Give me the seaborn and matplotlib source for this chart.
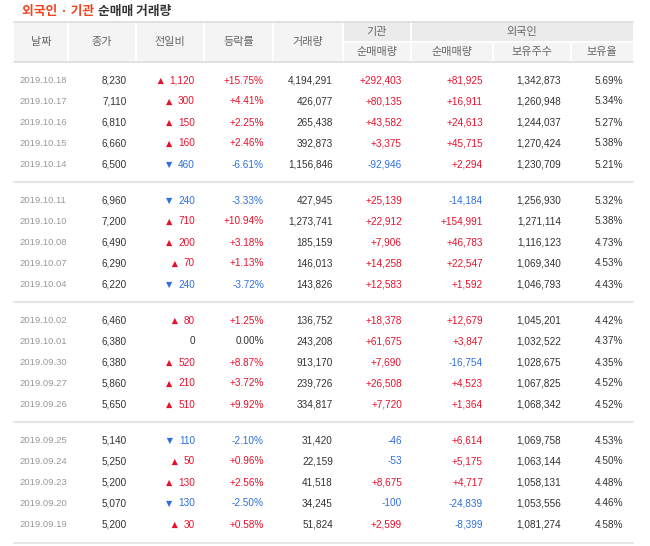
import pandas as pd
import matplotlib.pyplot as plt
import seaborn as sns

sns.set_theme(style="white")

dates = ["2019.10.18", "2019.10.17", "2019.10.16", "2019.10.15", "2019.10.14",
         "2019.10.11", "2019.10.10", "2019.10.08", "2019.10.07", "2019.10.04",
         "2019.10.02", "2019.10.01", "2019.09.30", "2019.09.27", "2019.09.26",
         "2019.09.25", "2019.09.24", "2019.09.23", "2019.09.20", "2019.09.19"]
close = [8230, 7110, 6810, 6660, 6500, 6960, 7200, 6490, 6290, 6220,
         6460, 6380, 6380, 5860, 5650, 5140, 5250, 5200, 5070, 5200]
change = [1120, 300, 150, 160, -460, -240, 710, 200, 70, -240,
          80, 0, 520, 210, 510, -110, 50, 130, -130, 30]
rate = [15.75, 4.41, 2.25, 2.46, -6.61, -3.33, 10.94, 3.18, 1.13, -3.72,
        1.25, 0.00, 8.87, 3.72, 9.92, -2.10, 0.96, 2.56, -2.50, 0.58]
volume = [4194291, 426077, 265438, 392873, 1156846, 427945, 1273741, 185159, 146013, 143826,
          136752, 243208, 913170, 239726, 334817, 31420, 22159, 41518, 34245, 51824]
inst_net = [292403, 80135, 43582, 3375, -92946, 25139, 22912, 7906, 14258, 12583,
            18378, 61675, 7690, 26508, 7720, -46, -53, 8675, -100, 2599]
frgn_net = [81925, 16911, 24613, 45715, 2294, -14184, 154991, 46783, 22547, 1592,
            12679, 3847, -16754, 4523, 1364, 6614, 5175, 4717, -24839, -8399]
frgn_hold = [1342873, 1260948, 1244037, 1270424, 1230709, 1256930, 1271114, 1116123, 1069340, 1046793,
             1045201, 1032522, 1028675, 1067825, 1068342, 1069758, 1063144, 1058131, 1053556, 1081274]
frgn_ratio = [5.69, 5.34, 5.27, 5.38, 5.21, 5.32, 5.38, 4.73, 4.53, 4.43,
              4.42, 4.37, 4.35, 4.52, 4.52, 4.53, 4.50, 4.48, 4.46, 4.58]

header_main = ["날짜", "종가", "전일비", "등락률", "거래량"]
header_groups = ["기관", "외국인"]
header_sub = ["순매매량", "순매매량", "보유주수", "보유율"]

RED = "#e8112d"
BLUE = "#2f6fdf"
DARK = "#333333"
GRAY = "#999999"
HGRAY = "#666666"
KR = ["Noto Sans CJK KR", "DejaVu Sans"]
NUM = ["Liberation Sans", "DejaVu Sans"]

col_edges = [14, 68, 136, 204, 273, 343, 411, 493, 571, 633]
right_x = [127, 195, 264, 333, 402, 483, 561, 623]

fig = plt.figure(figsize=(6.5, 5.46), dpi=100)
ax = fig.add_axes([0, 0, 1, 1])
ax.set_xlim(0, 650)
ax.set_ylim(546, 0)
ax.axis("off")
renderer = fig.canvas.get_renderer()

# title
t1 = ax.text(22, 11, "외국인 · 기관", family=KR, fontsize=9.2, fontweight="bold",
             color="#f0441f", va="center", ha="left")
bb = t1.get_window_extent(renderer)
ax.text(bb.x1 + 4, 11, "순매매 거래량", family=KR, fontsize=9.2, fontweight="bold",
        color=DARK, va="center", ha="left")

# header backgrounds
ax.fill_between([14, 633], 21.5, 61.5, color="#f4f4f4", lw=0)
ax.fill_between([343, 633], 21.5, 41, color="#ebebeb", lw=0)
ax.plot([343, 633], [41.5, 41.5], color="white", lw=1.2)
for x in col_edges[1:-1]:
    y0 = 41.5 if x in (493, 571) else 21.5
    ax.plot([x, x], [y0, 61.5], color="white", lw=1.4)
ax.plot([14, 633], [21.5, 21.5], color="#dcdcdc", lw=1.2)
ax.plot([14, 633], [61.8, 61.8], color="#e2e2e2", lw=1.4)

for i, h in enumerate(header_main):
    cx = (col_edges[i] + col_edges[i + 1]) / 2
    ax.text(cx, 42, h, family=KR, fontsize=8, color=HGRAY, ha="center", va="center")
ax.text(377, 31.5, header_groups[0], family=KR, fontsize=8, color=HGRAY, ha="center", va="center")
ax.text(522, 31.5, header_groups[1], family=KR, fontsize=8, color=HGRAY, ha="center", va="center")
for i, h in enumerate(header_sub):
    cx = (col_edges[5 + i] + col_edges[6 + i]) / 2
    ax.text(cx, 51.5, h, family=KR, fontsize=8, color=HGRAY, ha="center", va="center")


def sign_color(v):
    return RED if v > 0 else (BLUE if v < 0 else DARK)


tri = []
for k in range(len(dates)):
    g, r = divmod(k, 5)
    y = 80.5 + g * 120 + r * 21
    kw = dict(family=NUM, fontsize=7.2, va="center", ha="right")
    ax.text(19, y, dates[k], family=NUM, fontsize=6.8, color=GRAY, va="center", ha="left")
    ax.text(right_x[0], y, f"{close[k]:,}", color=DARK, **kw)
    c = change[k]
    tc = ax.text(right_x[1], y, f"{abs(c):,}", color=sign_color(c), **kw)
    if c != 0:
        left = tc.get_window_extent(renderer).x0
        tri.append({"x": left - 9, "y": y + 0.5, "dir": "up" if c > 0 else "down"})
    rs = f"{rate[k]:+.2f}%" if rate[k] != 0 else "0.00%"
    ax.text(right_x[2], y, rs, color=sign_color(rate[k]), **kw)
    ax.text(right_x[3], y, f"{volume[k]:,}", color=DARK, **kw)
    ax.text(right_x[4], y, f"{inst_net[k]:+,}", color=sign_color(inst_net[k]), **kw)
    ax.text(right_x[5], y, f"{frgn_net[k]:+,}", color=sign_color(frgn_net[k]), **kw)
    ax.text(right_x[6], y, f"{frgn_hold[k]:,}", color=DARK, **kw)
    ax.text(right_x[7], y, f"{frgn_ratio[k]:.2f}%", color=DARK, **kw)

tri_df = pd.DataFrame(tri)
sns.scatterplot(data=tri_df, x="x", y="y", hue="dir", style="dir",
                markers={"up": "^", "down": "v"}, palette={"up": RED, "down": BLUE},
                s=20, linewidth=0, legend=False, ax=ax)
ax.set_xlim(0, 650)
ax.set_ylim(546, 0)
ax.axis("off")

for g in range(4):
    yl = 182 + g * 120 if g < 3 else 542.5
    ax.plot([14, 633], [yl, yl], color="#e6e6e6", lw=1.5)

fig.savefig("out.png", dpi=100, facecolor="white")
